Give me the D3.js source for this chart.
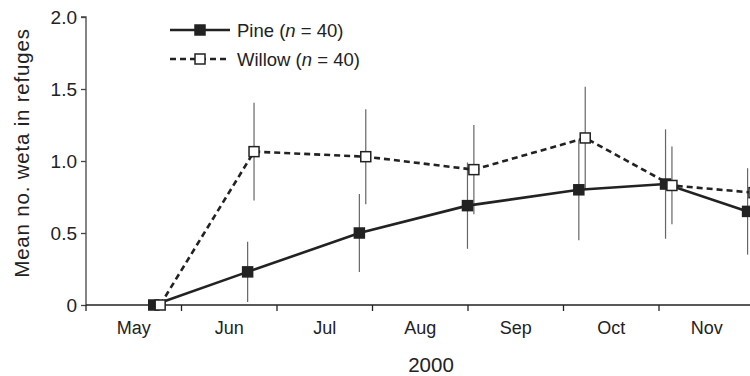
<!DOCTYPE html>
<html>
<head>
<meta charset="utf-8">
<script src="https://cdn.jsdelivr.net/npm/d3@7"></script>
<style>
	body { margin: 0; background: #fff; }
	svg { display: block; font-family: "Liberation Sans", Arial, sans-serif; }
</style>
</head>
<body>
<script>
// months on the axis, sampling times given as months since 1 May 2000
const months = ["May", "Jun", "Jul", "Aug", "Sep", "Oct", "Nov"];
const sampleMonths = [0.743, 1.726, 2.896, 4.028, 5.194, 6.102, 6.961];

const pineMean = [0, 0.23, 0.50, 0.69, 0.80, 0.84, 0.65];
const pineErr = [0, 0.21, 0.27, 0.30, 0.35, 0.38, 0.30];
const willowMean = [0, 1.065, 1.03, 0.94, 1.16, 0.83, 0.78];
const willowErr = [0, 0.34, 0.33, 0.31, 0.355, 0.27, 0.30];

const yTicks = [0, 0.5, 1.0, 1.5, 2.0];

const width = 750;
const height = 376;
const ink = "#222";

const svg = d3.select("body").append("svg")
	.attr("width", width)
	.attr("height", height);

const x = d3.scaleLinear().domain([0, 7]).range([86, 754.5]);
const y = d3.scaleLinear().domain([0, 2]).range([305, 17]);
const dodge = 3.2;

const series = [
	{ name: "Pine", mean: pineMean, err: pineErr, shift: -dodge, fill: ink, dash: null },
	{ name: "Willow", mean: willowMean, err: willowErr, shift: dodge, fill: "#fff", dash: "6,4" }
];

series.forEach(s => {
	s.points = s.mean.map((v, i) => ({ m: sampleMonths[i], v: v, e: s.err[i] }));
});

// y axis
const yAxis = svg.append("g")
	.attr("transform", `translate(${x(0)},0)`)
	.call(d3.axisLeft(y).tickValues(yTicks).tickSize(5).tickPadding(4)
		.tickFormat(d => d === 0 ? "0" : d3.format(".1f")(d)));
yAxis.select(".domain").attr("d", `M-5,${y(2)}H0V${y(0)}`).attr("stroke", "#444").attr("stroke-width", 1.3);
yAxis.selectAll(".tick line").attr("stroke", "#444").attr("stroke-width", 1.3);
yAxis.selectAll(".tick text").attr("font-size", 19).attr("fill", ink)
	.attr("font-family", "Liberation Sans, Arial, sans-serif");

// x axis: ticks at month boundaries, labels in between
const xAxis = svg.append("g").attr("transform", `translate(0,${y(0)})`);
xAxis.append("line")
	.attr("x1", x(0)).attr("x2", width)
	.attr("stroke", ink).attr("stroke-width", 1.5);
xAxis.selectAll("line.tick")
	.data(d3.range(0, months.length + 1))
	.enter().append("line")
	.attr("class", "tick")
	.attr("x1", d => x(d)).attr("x2", d => x(d))
	.attr("y1", 0).attr("y2", 6)
	.attr("stroke", ink).attr("stroke-width", 1.3);
xAxis.selectAll("text")
	.data(months)
	.enter().append("text")
	.attr("x", (d, i) => x(i + 0.5))
	.attr("y", 29)
	.attr("text-anchor", "middle")
	.attr("font-size", 18)
	.attr("fill", ink)
	.text(d => d);

svg.append("text")
	.attr("x", 431)
	.attr("y", 372)
	.attr("text-anchor", "middle")
	.attr("font-size", 20.5)
	.attr("fill", ink)
	.text("2000");

svg.append("text")
	.attr("transform", `translate(29,${153}) rotate(-90)`)
	.attr("text-anchor", "middle")
	.attr("font-size", 20.5)
	.attr("letter-spacing", 0.8)
	.attr("fill", ink)
	.text("Mean no. weta in refuges");

// error bars
const bars = svg.append("g");
series.forEach(s => {
	bars.selectAll(null)
		.data(s.points.filter(p => p.e > 0))
		.enter().append("line")
		.attr("x1", p => x(p.m) + s.shift).attr("x2", p => x(p.m) + s.shift)
		.attr("y1", p => y(p.v + p.e)).attr("y2", p => y(p.v - p.e))
		.attr("stroke", "#666").attr("stroke-width", 1.2);
});

// lines, willow first so pine sits on top
series.slice().reverse().forEach(s => {
	svg.append("path")
		.datum(s.points)
		.attr("d", d3.line().x(p => x(p.m) + s.shift).y(p => y(p.v)))
		.attr("fill", "none")
		.attr("stroke", ink)
		.attr("stroke-width", 2.6)
		.attr("stroke-dasharray", s.dash);
});

// markers
const ms = 10;
series.forEach(s => {
	svg.append("g").selectAll("rect")
		.data(s.points)
		.enter().append("rect")
		.attr("x", p => x(p.m) + s.shift - ms / 2)
		.attr("y", p => y(p.v) - ms / 2)
		.attr("width", ms).attr("height", ms)
		.attr("fill", s.fill)
		.attr("stroke", ink)
		.attr("stroke-width", 1.5);
});

// legend
const legend = svg.append("g");
series.forEach((s, i) => {
	const ly = 30 + i * 29;
	legend.append("line")
		.attr("x1", 170).attr("x2", 230)
		.attr("y1", ly).attr("y2", ly)
		.attr("stroke", ink).attr("stroke-width", 2.6)
		.attr("stroke-dasharray", s.dash);
	legend.append("rect")
		.attr("x", 200 - ms / 2).attr("y", ly - ms / 2)
		.attr("width", ms).attr("height", ms)
		.attr("fill", s.fill).attr("stroke", ink).attr("stroke-width", 1.5);
	const t = legend.append("text")
		.attr("x", 237).attr("y", ly + 6.5)
		.attr("font-size", 18.5)
		.attr("fill", ink);
	t.append("tspan").text(`${s.name} (`);
	t.append("tspan").attr("font-style", "italic").text("n");
	t.append("tspan").text(" = 40)");
});
</script>
</body>
</html>
